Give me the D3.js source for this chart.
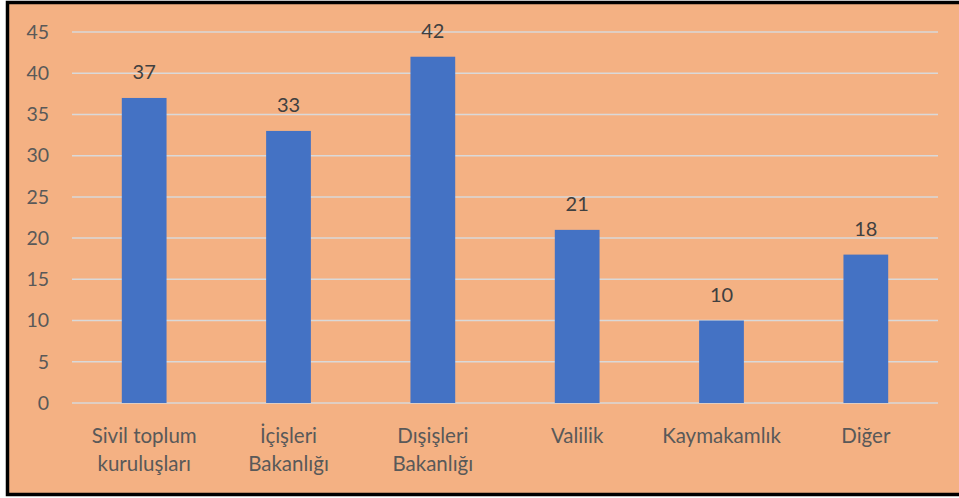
<!DOCTYPE html>
<html>
<head>
<meta charset="utf-8">
<script src="https://cdn.jsdelivr.net/npm/d3@7"></script>
<style>
  body { margin: 0; background: #fff; }
  text { font-family: Lato, "Open Sans", sans-serif; }
</style>
</head>
<body>
<div id="chart"></div>
<script>
// data
const categories = [["Sivil toplum", "kuruluşları"], ["İçişleri", "Bakanlığı"], ["Dışişleri", "Bakanlığı"], ["Valilik"], ["Kaymakamlık"], ["Diğer"]];
const values = [37, 33, 42, 21, 10, 18];
const yTicks = [0, 5, 10, 15, 20, 25, 30, 35, 40, 45];

const width = 959, height = 498;
const margin = { top: 32, right: 21, bottom: 95, left: 72 };

const svg = d3.select("#chart").append("svg")
    .attr("width", width)
    .attr("height", height);

// background panel with black frame
svg.append("rect")
    .attr("x", 7.5).attr("y", 2.5)
    .attr("width", width + 10).attr("height", 492)
    .attr("fill", "#F4B183")
    .attr("stroke", "#000")
    .attr("stroke-width", 3.5);

const keys = categories.map(c => c.join(" "));

const x = d3.scaleBand()
    .domain(keys)
    .range([margin.left, width - margin.right])
    .padding(0);

const y = d3.scaleLinear()
    .domain([0, 45])
    .range([height - margin.bottom, margin.top]);

// gridlines
svg.append("g")
    .selectAll("line")
    .data(yTicks)
    .join("line")
    .attr("x1", margin.left)
    .attr("x2", width - margin.right)
    .attr("y1", d => y(d))
    .attr("y2", d => y(d))
    .attr("stroke", "#D9D9D9")
    .attr("stroke-width", 1.5);

// y labels
svg.append("g")
    .selectAll("text")
    .data(yTicks)
    .join("text")
    .attr("x", 49)
    .attr("y", d => y(d))
    .attr("dy", "0.35em")
    .attr("text-anchor", "end")
    .attr("fill", "#595959")
    .attr("font-size", 19.5)
    .text(d => d);

const barW = x.bandwidth() * 0.31;

svg.append("g")
    .selectAll("rect")
    .data(values)
    .join("rect")
    .attr("x", (d, i) => x(keys[i]) + (x.bandwidth() - barW) / 2)
    .attr("y", d => y(d))
    .attr("width", barW)
    .attr("height", d => y(0) - y(d))
    .attr("fill", "#4472C4");

// value labels
svg.append("g")
    .selectAll("text")
    .data(values)
    .join("text")
    .attr("x", (d, i) => x(keys[i]) + x.bandwidth() / 2)
    .attr("y", d => y(d) - 19)
    .attr("text-anchor", "middle")
    .attr("fill", "#404040")
    .attr("font-size", 20)
    .text(d => d);

// category labels
const cat = svg.append("g")
    .selectAll("text")
    .data(categories)
    .join("text")
    .attr("x", (d, i) => x(keys[i]) + x.bandwidth() / 2)
    .attr("y", 443)
    .attr("text-anchor", "middle")
    .attr("fill", "#595959")
    .attr("font-size", 20.5);

cat.selectAll("tspan")
    .data(d => d)
    .join("tspan")
    .attr("x", function() { return d3.select(this.parentNode).attr("x"); })
    .attr("dy", (d, i) => i === 0 ? 0 : 28)
    .text(d => d);
</script>
</body>
</html>
